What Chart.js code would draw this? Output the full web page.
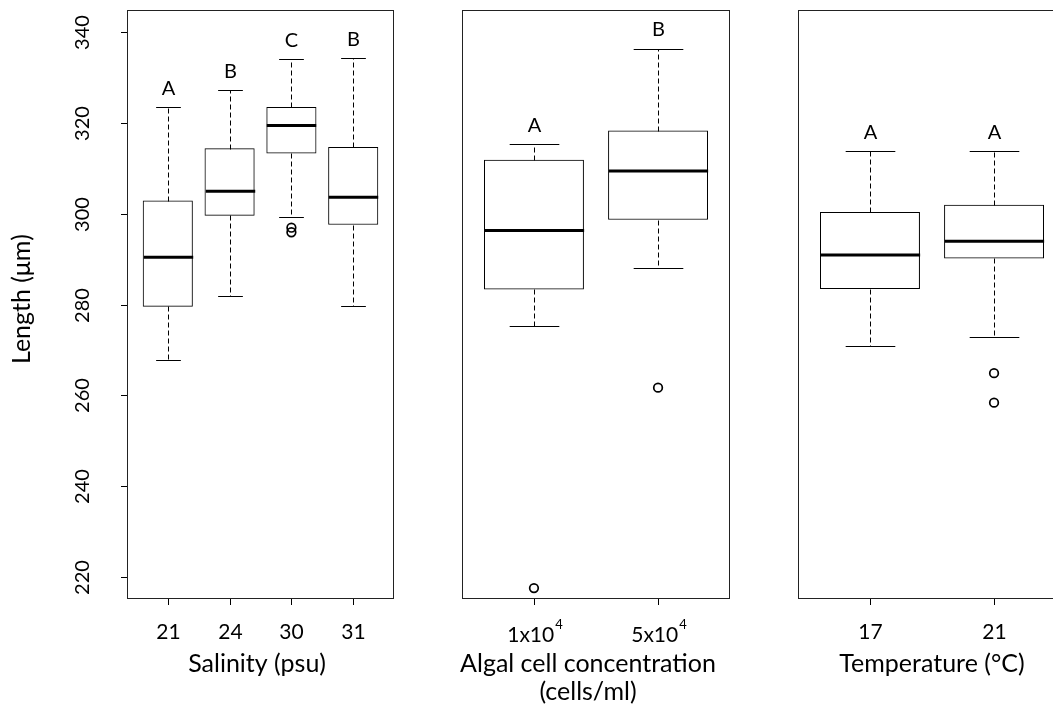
<!DOCTYPE html>
<html>
<head>
<meta charset="utf-8">
<script src="https://cdn.jsdelivr.net/npm/chart.js@4"></script>
<style>
  html, body { margin: 0; padding: 0; background: #fff; overflow: hidden; }
  #wrap { position: relative; width: 1053px; height: 711px; overflow: hidden; }
  canvas { position: absolute; top: 0; }
</style>
</head>
<body>
<div id="wrap">
  <canvas id="p1" width="430" height="711" style="left:0px"></canvas>
  <canvas id="p2" width="335" height="711" style="left:430px"></canvas>
  <canvas id="p3" width="310" height="711" style="left:765px"></canvas>
</div>
<script>
// shared y axis
const yTicks = [220, 240, 260, 280, 300, 320, 340];
const yMin = 215.2, yMax = 344.8;

// salinity panel
const salLabels = ["21", "24", "30", "31"];
const salLow = [267.7, 281.8, 299.2, 279.6];
const salQ1 = [279.6, 299.6, 313.3, 297.6];
const salMed = [290.4, 304.9, 319.4, 303.6];
const salQ3 = [302.8, 314.3, 323.4, 314.6];
const salHigh = [323.4, 327.2, 334.0, 334.3];
const salOut = [[], [], [296.9, 295.9], []];
const salLetters = ["A", "B", "C", "B"];

// algal concentration panel
const algBase = ["1x10", "5x10"];
const algExp = ["4", "4"];
const algLow = [275.2, 288.0];
const algQ1 = [283.4, 298.7];
const algMed = [296.3, 309.4];
const algQ3 = [311.8, 318.2];
const algHigh = [315.3, 336.3];
const algOut = [[217.6], [261.7]];
const algLetters = ["A", "B"];

// temperature panel
const tempLabels = ["17", "21"];
const tempLow = [270.9, 272.9];
const tempQ1 = [283.5, 290.2];
const tempMed = [290.9, 293.9];
const tempQ3 = [300.3, 301.9];
const tempHigh = [313.7, 313.7];
const tempOut = [[], [264.9, 258.4]];
const tempLetters = ["A", "A"];

const FONT = '"Lato", "Open Sans", sans-serif';

function makePlugin(p) {
  return {
    id: "boxExtras",
    afterDatasetsDraw(chart) {
      const { ctx, chartArea: a, scales: { x, y } } = chart;
      const half = x.getPixelForValue(1.4) - x.getPixelForValue(1);
      const cap = half / 2;
      const ln = (x1, y1, x2, y2) => { ctx.beginPath(); ctx.moveTo(x1, y1); ctx.lineTo(x2, y2); ctx.stroke(); };
      ctx.save();
      ctx.strokeStyle = "#000";
      ctx.fillStyle = "#000";

      p.med.forEach((m, i) => {
        const cx = Math.round(x.getPixelForValue(i + 1)) + 0.5;
        const py = v => Math.round(y.getPixelForValue(v)) + 0.5;
        // whiskers
        ctx.lineWidth = 1;
        ctx.setLineDash([5, 3]);
        ln(cx, py(p.q3[i]), cx, py(p.high[i]));
        ln(cx, py(p.q1[i]), cx, py(p.low[i]));
        ctx.setLineDash([]);
        ln(cx - cap, py(p.high[i]), cx + cap, py(p.high[i]));
        ln(cx - cap, py(p.low[i]), cx + cap, py(p.low[i]));
        // median
        ctx.lineWidth = 3;
        ln(cx - half, y.getPixelForValue(m), cx + half, y.getPixelForValue(m));
        // letter
        ctx.font = "20px " + FONT;
        ctx.textAlign = "center";
        ctx.textBaseline = "middle";
        ctx.fillText(p.letters[i], cx, y.getPixelForValue(p.high[i] + 4.1));
        // x tick
        ctx.lineWidth = 1;
        ln(cx, a.bottom, cx, a.bottom + 6);
        // x tick label
        if (p.exp) {
          ctx.font = "21px " + FONT;
          const wb = ctx.measureText(p.labels[i]).width;
          ctx.font = "13px " + FONT;
          const we = ctx.measureText(p.exp[i]).width;
          const sx = cx - (wb + we) / 2;
          ctx.textAlign = "left";
          ctx.font = "21px " + FONT;
          ctx.fillText(p.labels[i], sx, 635);
          ctx.font = "13px " + FONT;
          ctx.fillText(p.exp[i], sx + wb + 1, 625);
        } else {
          ctx.font = "21px " + FONT;
          ctx.fillText(p.labels[i], cx, 632);
        }
      });

      // frame
      ctx.lineWidth = 1;
      ctx.strokeStyle = "#222";
      ctx.strokeRect(Math.round(a.left) + 0.5, Math.round(a.top) + 0.5,
        Math.round(a.right - a.left) - 1, Math.round(a.bottom - a.top) - 1);

      // y axis
      if (p.showY) {
        ctx.strokeStyle = "#000";
        ctx.font = "20px " + FONT;
        ctx.textAlign = "center";
        ctx.textBaseline = "middle";
        yTicks.forEach(t => {
          const ty = Math.round(y.getPixelForValue(t)) + 0.5;
          ln(a.left - 6, ty, a.left, ty);
          ctx.save();
          ctx.translate(83, ty);
          ctx.rotate(-Math.PI / 2);
          ctx.fillText(String(t), 0, 0);
          ctx.restore();
        });
        ctx.save();
        ctx.font = "25px " + FONT;
        ctx.translate(22, 299);
        ctx.rotate(-Math.PI / 2);
        ctx.fillText("Length (\u03bcm)", 0, 0);
        ctx.restore();
      }

      // axis title
      ctx.font = "25px " + FONT;
      ctx.textAlign = "center";
      ctx.textBaseline = "middle";
      const tx = p.titleX || (a.left + a.right) / 2;
      p.title.forEach((t, k) => ctx.fillText(t, tx, 664 + k * 28));
      ctx.restore();
    }
  };
}

function makeChart(id, p) {
  const canvas = document.getElementById(id);
  const areaW = canvas.width - p.pad.left - p.pad.right;
  const unit = areaW / (p.xMax - p.xMin);
  const outliers = [];
  p.out.forEach((arr, i) => arr.forEach(v => outliers.push({ x: i + 1, y: v })));
  new Chart(canvas, {
    type: "bar",
    data: {
      datasets: [
        {
          type: "bar",
          data: p.med.map((_, i) => ({ x: i + 1, y: [p.q1[i], p.q3[i]] })),
          backgroundColor: "#fff",
          borderColor: "#000",
          borderWidth: 1,
          borderSkipped: false,
          barThickness: unit * 0.8
        },
        {
          type: "scatter",
          data: outliers,
          pointRadius: 4.3,
          pointBorderWidth: 1.7,
          pointBorderColor: "#000",
          pointBackgroundColor: "rgba(0,0,0,0)"
        }
      ]
    },
    options: {
      responsive: false,
      animation: false,
      layout: { padding: p.pad },
      scales: {
        x: { type: "linear", min: p.xMin, max: p.xMax, offset: false, display: false },
        y: { type: "linear", min: yMin, max: yMax, display: false }
      },
      plugins: { legend: { display: false }, tooltip: { enabled: false } }
    },
    plugins: [makePlugin(p)]
  });
}

makeChart("p1", {
  labels: salLabels, low: salLow, q1: salQ1, med: salMed, q3: salQ3, high: salHigh,
  out: salOut, letters: salLetters, title: ["Salinity (psu)"], showY: true, titleX: 257,
  xMin: 0.34, xMax: 4.66, pad: { left: 127, right: 36, top: 10, bottom: 112 }
});
makeChart("p2", {
  labels: algBase, exp: algExp, low: algLow, q1: algQ1, med: algMed, q3: algQ3, high: algHigh,
  out: algOut, letters: algLetters, title: ["Algal cell concentration", "(cells/ml)"], titleX: 158,
  xMin: 0.42, xMax: 2.58, pad: { left: 32, right: 35, top: 10, bottom: 112 }
});
makeChart("p3", {
  labels: tempLabels, low: tempLow, q1: tempQ1, med: tempMed, q3: tempQ3, high: tempHigh,
  out: tempOut, letters: tempLetters, title: ["Temperature (\u00b0C)"], titleX: 167,
  xMin: 0.42, xMax: 2.58, pad: { left: 33, right: 9, top: 10, bottom: 112 }
});
</script>
</body>
</html>
